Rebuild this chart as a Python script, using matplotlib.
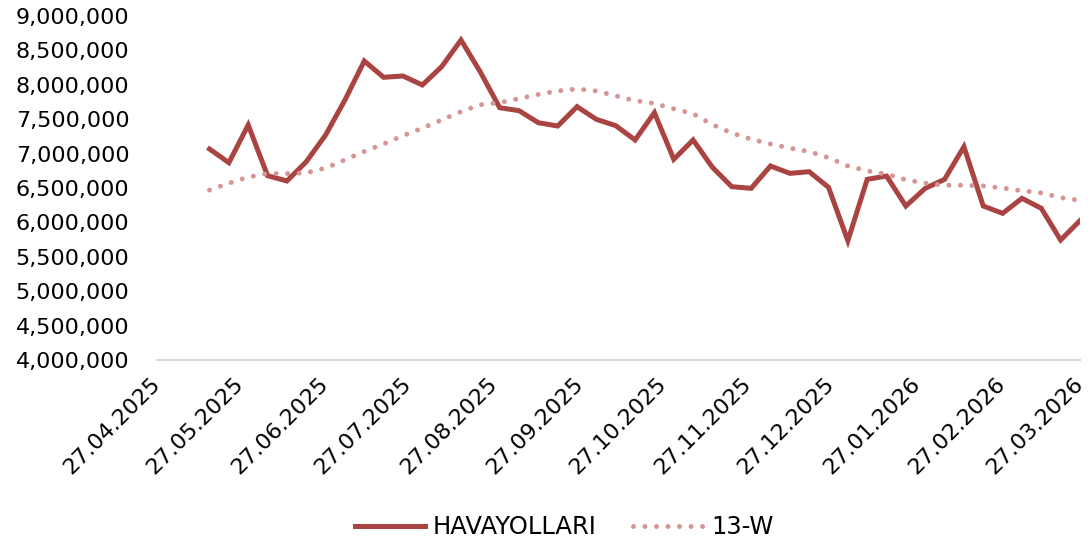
import numpy as np
import pandas as pd
import matplotlib
matplotlib.use("Agg")
import matplotlib.pyplot as plt
import matplotlib.dates as mdates
from matplotlib.ticker import FuncFormatter

# weekly values (Fridays)
dates = pd.date_range("2025-05-16", "2026-03-27", freq="7D")

havayollari = [
    7067000, 6868000, 7416000, 6679000, 6602000, 6882000, 7270000, 7779000,
    8346000, 8109000, 8128000, 7997000, 8263000, 8651000, 8186000, 7667000,
    7624000, 7449000, 7401000, 7682000, 7498000, 7406000, 7198000, 7595000,
    6917000, 7198000, 6800000, 6519000, 6495000, 6820000, 6713000, 6737000,
    6510000, 5734000, 6626000, 6674000, 6238000, 6495000, 6626000, 7100000,
    6238000, 6132000, 6350000, 6205000, 5744000, 6025000,
]

ma_13w = [
    6470000, 6570000, 6660000, 6710000, 6710000, 6720000, 6790000, 6910000,
    7030000, 7140000, 7260000, 7370000, 7490000, 7610000, 7710000, 7740000,
    7800000, 7860000, 7910000, 7940000, 7910000, 7840000, 7770000, 7730000,
    7650000, 7580000, 7420000, 7300000, 7210000, 7140000, 7080000, 7030000,
    6940000, 6820000, 6750000, 6700000, 6620000, 6570000, 6540000, 6540000,
    6530000, 6500000, 6460000, 6430000, 6360000, 6320000,
]

tick_dates = [pd.Timestamp(2025, 4, 27) + pd.DateOffset(months=k) for k in range(12)]
y_ticks = np.arange(4000000, 9000001, 500000)

plt.rcParams["font.family"] = ["DejaVu Sans"]
FS = 16

fig = plt.figure(figsize=(10.89, 5.44), dpi=100)
ax = fig.add_axes([0.1442, 0.3382, 0.8475, 0.6324])

ax.plot(dates, havayollari, color="#A94442", lw=3.6, solid_joinstyle="miter",
        label="HAVAYOLLARI")
ax.plot(dates, ma_13w, color="#D59595", lw=3.6, linestyle=(0, (0.001, 2.3)),
        dash_capstyle="round", label="13-W")

ax.set_xlim(tick_dates[0], tick_dates[-1])
ax.set_ylim(4000000, 9000000)
ax.set_yticks(y_ticks)
ax.yaxis.set_major_formatter(FuncFormatter(lambda v, p: f"{int(v):,}"))
ax.set_xticks(tick_dates)
ax.xaxis.set_major_formatter(mdates.DateFormatter("%d.%m.%Y"))

for s in ["top", "right", "left"]:
    ax.spines[s].set_visible(False)
ax.spines["bottom"].set_color("#D9D9D9")
ax.spines["bottom"].set_linewidth(1.5)
ax.tick_params(axis="both", length=0, labelsize=FS, colors="#000000")
ax.tick_params(axis="y", pad=20)
ax.tick_params(axis="x", pad=15)
for lab in ax.get_xticklabels():
    lab.set_rotation(45)
    lab.set_ha("right")
    lab.set_va("center")
    lab.set_rotation_mode("anchor")

fig.legend(loc="center", bbox_to_anchor=(0.518, 0.031), ncol=2, frameon=False,
           fontsize=17.5, handlelength=2.9, handletextpad=0.3, columnspacing=1.5)

fig.savefig("out.png", dpi=100)
